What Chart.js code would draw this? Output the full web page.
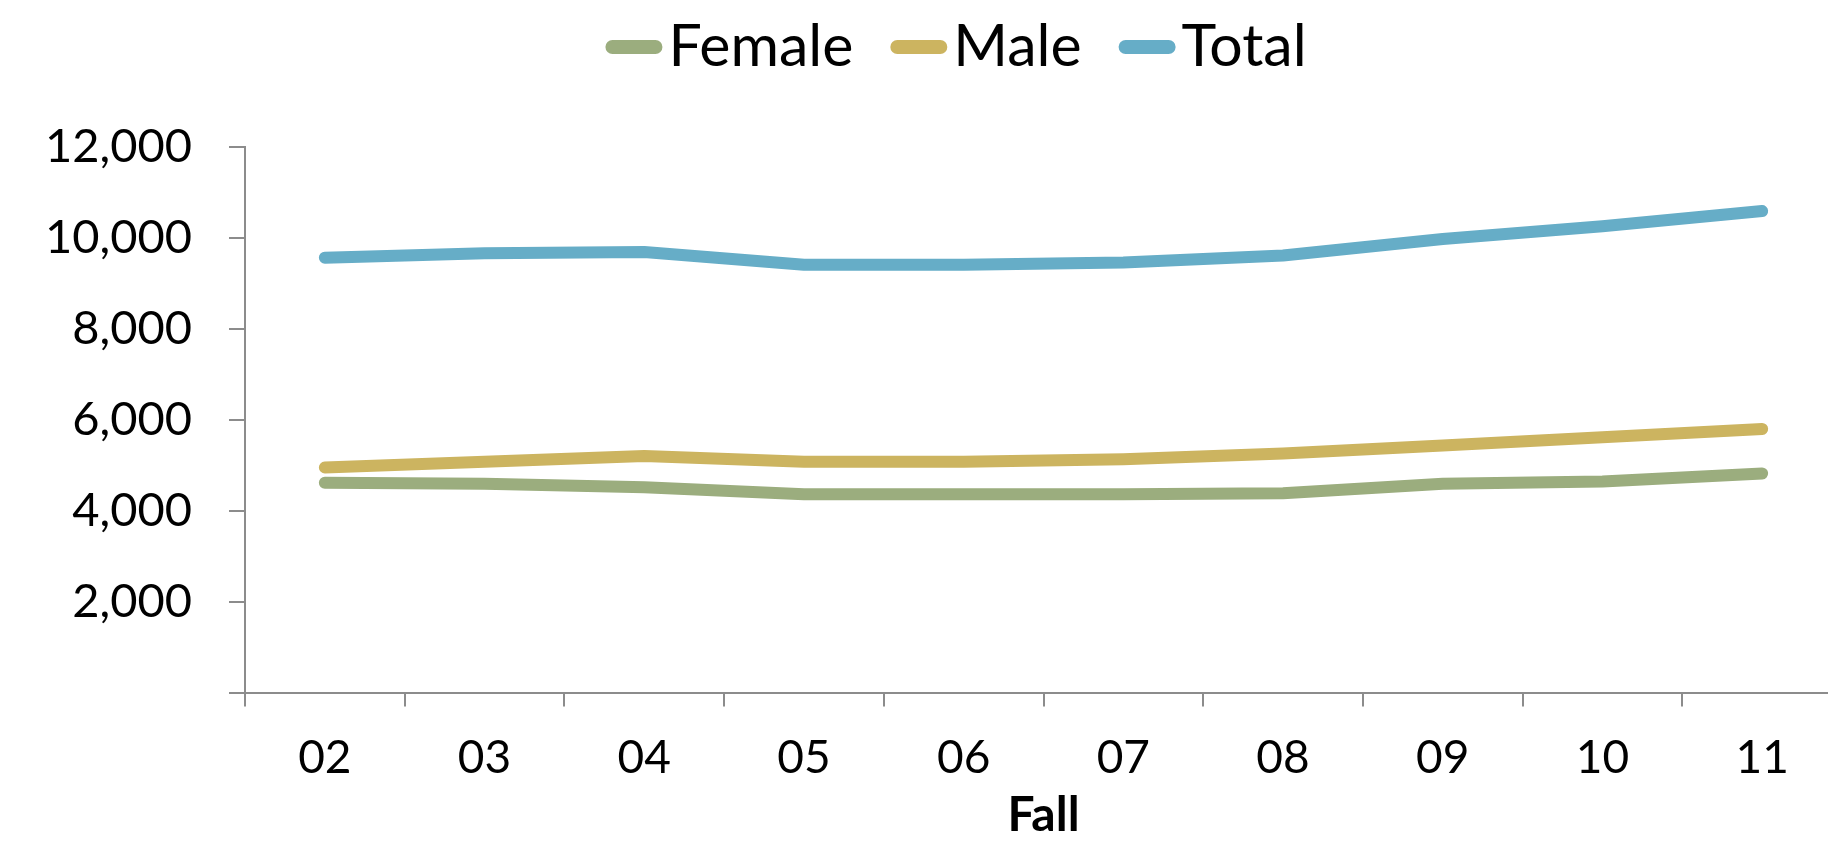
<!DOCTYPE html>
<html>
<head>
<meta charset="utf-8">
<script src="https://cdn.jsdelivr.net/npm/chart.js@4.4.0/dist/chart.umd.min.js"></script>
<style>
  html, body { margin: 0; padding: 0; background: #fff; overflow: hidden; }
  #wrap { width: 1912px; height: 847px; }
</style>
</head>
<body>
<div id="wrap"><canvas id="enrollChart"></canvas></div>
<script>
// Fall enrollment by gender
const years = ['02', '03', '04', '05', '06', '07', '08', '09', '10', '11'];
const female = [4615, 4590, 4515, 4360, 4360, 4360, 4385, 4590, 4640, 4820];
const male = [4950, 5075, 5205, 5075, 5075, 5130, 5255, 5435, 5615, 5795];
const total = [9565, 9665, 9690, 9410, 9410, 9460, 9615, 9975, 10255, 10590];
const yTicks = [0, 2000, 4000, 6000, 8000, 10000, 12000];

const axisGrey = '#8c8c8c';
const font = 'Lato';

// legend drawn by hand so the line sample sits tight to the text
const legendPlugin = {
    id: 'tightLegend',
    afterDraw(chart) {
        const ctx = chart.ctx;
        const items = chart.data.datasets;
        const lineW = 57, gap = 6, sep = 37;
        ctx.save();
        ctx.font = '59px ' + font;
        const widths = items.map(d => ctx.measureText(d.label).width);
        const full = widths.reduce((a, w) => a + lineW + gap + w, 0) + sep * (items.length - 1);
        let x = chart.width / 2 - full / 2;
        const y = 47;
        items.forEach((d, i) => {
            ctx.strokeStyle = d.borderColor;
            ctx.lineWidth = 14;
            ctx.lineCap = 'round';
            ctx.beginPath();
            ctx.moveTo(x + 7, y);
            ctx.lineTo(x + lineW - 7, y);
            ctx.stroke();
            ctx.fillStyle = '#000';
            ctx.textBaseline = 'middle';
            ctx.fillText(d.label, x + lineW + gap, y);
            x += lineW + gap + widths[i] + sep;
        });
        ctx.restore();
    }
};

function makeSeries(label, data, color) {
    return {
        label: label,
        data: data,
        borderColor: color,
        backgroundColor: color,
        borderWidth: 12,
        borderCapStyle: 'round',
        borderJoinStyle: 'round',
        pointRadius: 0,
        tension: 0
    };
}

const ctx = document.getElementById('enrollChart').getContext('2d');
window.enrollChart = new Chart(ctx, {
    type: 'line',
    data: {
        labels: years,
        datasets: [
            makeSeries('Female', female, '#9bad7e'),
            makeSeries('Male', male, '#ccb460'),
            makeSeries('Total', total, '#66adc7')
        ]
    },
    options: {
        responsive: true,
        maintainAspectRatio: false,
        animation: false,
        layout: { padding: { top: 147, right: 70, bottom: 0, left: 0 } },
        plugins: {
            legend: { display: false },
            tooltip: { enabled: false }
        },
        scales: {
            x: {
                offset: true,
                grid: {
                    offset: true,
                    drawOnChartArea: false,
                    drawTicks: true,
                    tickLength: 14,
                    color: axisGrey,
                    lineWidth: 2
                },
                border: { display: true, color: axisGrey, width: 2 },
                ticks: { color: '#000', padding: 24, font: { family: font, size: 46 } },
                title: {
                    display: true,
                    text: 'Fall',
                    color: '#000',
                    padding: { top: 0, bottom: 3 },
                    font: { family: font, size: 48, weight: 'bold' }
                },
                afterFit(scale) { scale.height = 154.5; }
            },
            y: {
                min: 0,
                max: 12000,
                afterBuildTicks(scale) { scale.ticks = yTicks.map(v => ({ value: v })); },
                grid: {
                    drawOnChartArea: false,
                    drawTicks: true,
                    tickLength: 16,
                    color: axisGrey,
                    lineWidth: 2
                },
                border: { display: true, color: axisGrey, width: 2 },
                ticks: {
                    color: '#000',
                    padding: 37,
                    font: { family: font, size: 47 },
                    callback: v => v === 0 ? '' : v.toLocaleString('en-US')
                },
                afterFit(scale) { scale.width = 245; }
            }
        }
    },
    plugins: [legendPlugin]
});
</script>
</body>
</html>
